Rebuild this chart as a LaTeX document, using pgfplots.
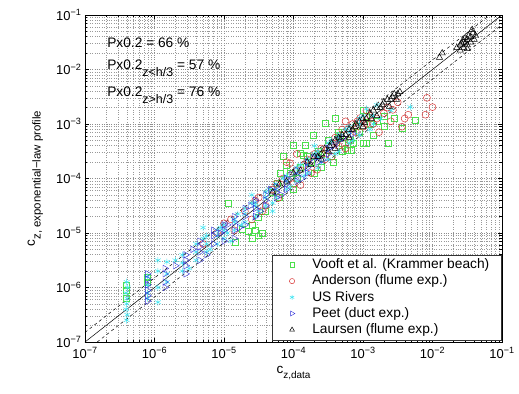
\documentclass[border=0pt]{standalone}
\usepackage{fontspec}
\setmainfont{Liberation Sans}
\usepackage{pgfplots}
\pgfplotsset{compat=1.18}
\definecolor{vgreen}{rgb}{0.3,0.88,0.3}
\definecolor{ared}{rgb}{0.85,0.2,0.2}
\definecolor{ucyan}{rgb}{0.25,0.9,0.95}
\definecolor{pblue}{rgb}{0.2,0.2,0.85}
\newcommand{\fs}[1]{\fontsize{#1}{#1}\selectfont}
\pgfplotsset{lg/.style={legend image code/.code={\path (0bp,0bp) (28.5bp,0bp); \draw[##1, every mark/.append style={scale=0.75}] plot coordinates {(8.5bp,0bp)};}}}
\begin{document}
\begin{tikzpicture}
\begin{axis}[
  name=ax,
  width=417bp, height=327bp, scale only axis,
  xmode=log, ymode=log,
  xmin=1e-7, xmax=1e-1, ymin=1e-7, ymax=1e-1,
  xtick={1e-7,1e-6,1e-5,1e-4,1e-3,1e-2,1e-1},
  ytick={1e-7,1e-6,1e-5,1e-4,1e-3,1e-2,1e-1},
  xticklabels={10\textsuperscript{−7},10\textsuperscript{−6},10\textsuperscript{−5},10\textsuperscript{−4},10\textsuperscript{−3},10\textsuperscript{−2},10\textsuperscript{−1}},
  yticklabels={10\textsuperscript{−7},10\textsuperscript{−6},10\textsuperscript{−5},10\textsuperscript{−4},10\textsuperscript{−3},10\textsuperscript{−2},10\textsuperscript{−1}},
  ticklabel style={font=\fs{13}},
  xticklabel style={yshift=-2bp},
  grid=both,
  major grid style={dotted, black!45},
  minor grid style={dotted, black!40},
  major tick length=4bp, minor tick length=2.5bp,
  tick style={black, line width=0.4pt},
  axis line style={line width=0.5pt},
  xlabel={c\raisebox{-0.8ex}{\fs{10}z,data}},
  xlabel style={at={(axis description cs:0.5,0)}, anchor=base, yshift=-31bp, font=\fs{13.5}},
  ylabel={c\raisebox{-0.8ex}{\fs{11.5}z, exponential−law profile}},
  ylabel style={at={(axis description cs:0,0.5)}, anchor=base, yshift=50bp, font=\fs{13.5}},
  legend style={at={(1,0)}, anchor=south east, xshift=-1bp, yshift=2bp, draw=black!80, fill=white,
     font=\fs{13.8}, row sep=0bp, inner xsep=11.5bp, inner ysep=2bp,
     nodes={inner xsep=0bp, inner ysep=0.85bp, text height=11bp, text depth=3.5bp}},
  legend cell align=left,
  mark options={solid, line width=0.5pt},
]
% reference lines (not in legend)
\addplot[black, line width=0.5pt, forget plot] coordinates {(1e-7,1e-7) (1e-1,1e-1)};
\addplot[black, dashed, line width=0.5pt, forget plot] coordinates {(1e-7,1.5e-7) (6.667e-2,1e-1)};
\addplot[black, dashed, line width=0.5pt, forget plot] coordinates {(1.5e-7,1e-7) (1e-1,6.667e-2)};

% Vooft et al. (Krammer beach)
\addplot[only marks, mark=square, mark size=3pt, color=vgreen, lg] coordinates {
(3.98e-7,1.12e-6) (3.98e-7,8.91e-7) (3.98e-7,6.46e-7) (7.94e-7,1.55e-6) (7.94e-7,1.26e-6)
(1.15e-5,3.55e-5) (1.45e-5,6.76e-6) (1.86e-5,1.15e-5) (2.24e-5,1.07e-5) (2.51e-5,7.94e-6)
(2.82e-5,1.12e-5) (3.16e-5,8.91e-6) (3.55e-5,1e-5) (3.09e-5,1.91e-5) (2.51e-5,1.41e-5)
(5.01e-5,5.62e-5) (5.75e-5,8.32e-5) (6.46e-5,1.26e-4) (7.08e-5,2.51e-4) (7.94e-5,1.78e-4)
(8.91e-5,1.26e-4) (1e-4,4.07e-4) (1.12e-4,1e-4) (1.26e-4,2.95e-4) (1.38e-4,2.69e-4)
(1.48e-4,4.07e-4) (1.58e-4,2.51e-4) (1.78e-4,2e-4) (1.91e-4,6.31e-4) (2.24e-4,3.16e-4)
(2.51e-4,1.58e-4) (2.82e-4,1.05e-3) (3.16e-4,5.01e-4) (3.55e-4,2.51e-4) (3.72e-4,2e-4)
(3.98e-4,1.29e-3) (4.47e-4,7.08e-4) (4.68e-4,6.31e-4) (5.01e-4,3.16e-4) (5.89e-4,3.31e-4)
(6.46e-4,5.13e-4) (6.76e-4,3.31e-4) (7.24e-4,4.47e-4) (7.94e-4,8.91e-4) (1e-3,4.47e-4)
(1.12e-3,4.47e-4) (1.26e-3,1e-3) (1.41e-3,6.31e-4) (1.58e-3,1.12e-3) (2e-3,8.91e-4)
(2.29e-3,4.47e-4) (2.82e-3,1.26e-3) (3.63e-3,8.51e-4) (5.62e-3,1.17e-3) (1e-3,1.78e-3)
(3.98e-5,2.51e-5) (1e-4,6.31e-5) (2e-4,1.26e-4)
(6.31e-5,4.47e-5) (1.26e-4,1.58e-4) (2.51e-4,2.82e-4) (5.01e-4,4.47e-4) (8.91e-4,7.08e-4)
(1.12e-3,1.41e-3) (2e-3,1.41e-3)
};
\addlegendentry{Vooft et al. (Krammer beach)}

% Anderson (flume exp.)
\addplot[only marks, mark=o, mark size=3.5pt, color=ared, lg] coordinates {
(5.01e-6,6.31e-6) (7.94e-6,1e-5) (1e-5,1.51e-5) (1.41e-5,1.12e-5) (2e-5,2.51e-5)
(2.51e-5,1.78e-5) (3.16e-5,4.47e-5) (3.98e-5,3.16e-5) (5.01e-5,6.31e-5) (6.03e-5,4.37e-5)
(7.08e-5,1e-4) (8.91e-5,1.91e-4) (1e-4,7.94e-5) (1.26e-4,7.59e-5) (1.41e-4,1.78e-4)
(1.58e-4,2.24e-4) (1.78e-4,1.26e-4) (2.19e-4,1.45e-4) (2.51e-4,3.55e-4) (3.02e-4,3.31e-4)
(3.55e-4,2.51e-4) (3.98e-4,5.62e-4) (4.47e-4,3.98e-4) (5.01e-4,7.94e-4) (6.31e-4,5.01e-4)
(7.08e-4,1e-3) (7.94e-4,7.08e-4) (9.12e-4,1.29e-3) (1e-3,8.91e-4) (1.26e-3,1.41e-3)
(1.41e-3,1e-3) (1.7e-3,7.08e-4) (2e-3,1.58e-3) (2.69e-3,1.82e-3) (3.16e-3,2.51e-3)
(3.63e-3,8.91e-4) (3.98e-3,1.26e-3) (4.47e-3,1.48e-3) (7.94e-3,1.48e-3) (8.32e-3,3.02e-3)
(1e-2,2.04e-3) (7.94e-5,2e-4) (1.12e-4,2.82e-4) (1.26e-5,1.78e-5) (3.55e-5,2.51e-5)
(5.62e-4,3.55e-4) (1.12e-3,1.78e-3)
(2.82e-5,3.98e-5) (5.62e-5,7.94e-5) (1.12e-4,1.41e-4) (2e-4,2.82e-4) (2.82e-4,2.24e-4)
(4.17e-4,4.47e-4) (6.03e-4,7.94e-4) (8.32e-4,1.12e-3) (1.12e-3,1e-3) (1.58e-3,1.26e-3)
(2.24e-3,2e-3) (2.51e-3,1.12e-3) (5.62e-4,1.12e-3)
};
\addlegendentry{Anderson (flume exp.)}

% US Rivers
\addplot[only marks, mark=asterisk, mark size=3.3pt, color=ucyan, lg] coordinates {
(3.98e-7,1.26e-6) (4.1e-7,1e-6) (3.9e-7,7.94e-7) (4.05e-7,6.31e-7) (3.98e-7,5.01e-7) (3.9e-7,3.98e-7) (4.05e-7,3.16e-7) (3.98e-7,2.51e-7)
(7.94e-7,1.58e-6) (7.94e-7,1.12e-6) (7.94e-7,7.94e-7) (7.94e-7,6.31e-7)
(1.12e-6,3.16e-6) (1.12e-6,2e-6) (1.12e-6,1e-6) (1.12e-6,5.37e-7)
(1.51e-6,2.95e-6) (1.51e-6,1.78e-6) (1.51e-6,1.26e-6)
(2.51e-6,3.98e-6) (2.51e-6,2.82e-6) (2.51e-6,2e-6)
(3.98e-6,6.31e-6) (3.98e-6,4.47e-6) (3.98e-6,3.16e-6)
(5.62e-6,8.91e-6) (5.62e-6,6.31e-6) (5.62e-6,4.47e-6)
(7.94e-6,1.12e-5) (7.94e-6,8.91e-6) (7.94e-6,6.31e-6)
(1e-5,1.41e-5) (1e-5,1.12e-5) (1e-5,7.94e-6)
(1.41e-5,1.78e-5) (1.41e-5,1.58e-5) (1.41e-5,1.12e-5)
(2e-5,2.82e-5) (2e-5,2.24e-5) (2e-5,1.58e-5)
(2.82e-5,3.55e-5) (2.82e-5,3.16e-5) (2.82e-5,2e-5)
(3.98e-5,5.62e-5) (3.98e-5,4.47e-5) (3.98e-5,3.16e-5)
(5.62e-5,7.94e-5) (5.62e-5,6.31e-5) (5.62e-5,4.47e-5)
(7.94e-5,1.12e-4) (7.94e-5,8.91e-5) (7.94e-5,6.31e-5)
(1.12e-4,1.58e-4) (1.12e-4,1.26e-4) (1.12e-4,8.91e-5)
(1.58e-4,2.24e-4) (1.58e-4,1.78e-4) (1.58e-4,1.26e-4)
(2.24e-4,3.16e-4) (2.24e-4,2.51e-4) (2.24e-4,1.58e-4)
(3.16e-4,4.47e-4) (3.16e-4,3.55e-4) (3.16e-4,2.24e-4)
(4.47e-4,6.31e-4) (4.47e-4,5.01e-4) (4.47e-4,3.16e-4)
(6.31e-4,8.91e-4) (6.31e-4,7.08e-4) (6.31e-4,4.47e-4)
(8.91e-4,1.26e-3) (8.91e-4,1e-3) (8.91e-4,6.31e-4)
(1.12e-3,1.91e-3) (1.41e-3,1.41e-3) (1.41e-3,1e-3) (2.51e-3,1.78e-3) (4.79e-3,2.04e-3)
(5.01e-6,1.26e-5) (1.26e-5,7.08e-6) (2.51e-5,5.01e-5) (5.01e-5,2.51e-5) (2e-4,3.98e-4)
(2e-6,3.16e-6) (3.16e-6,2.24e-6) (5.01e-6,7.94e-6) (6.31e-6,5.01e-6) (8.91e-6,1.26e-5)
(1.12e-5,1e-5) (1.58e-5,2.24e-5) (1.78e-5,1.41e-5) (2.51e-5,3.55e-5) (3.16e-5,2.51e-5)
(4.47e-5,6.31e-5) (5.01e-5,3.55e-5) (7.08e-5,1e-4) (8.91e-5,7.08e-5) (1.26e-4,1.78e-4)
(1.41e-4,1.12e-4) (2e-4,2.82e-4) (2.51e-4,2e-4) (3.55e-4,5.01e-4) (3.98e-4,2.82e-4)
(5.62e-4,7.94e-4) (7.08e-4,5.01e-4) (1e-3,1.41e-3) (1.26e-3,7.94e-4) (1.78e-3,1.26e-3)
(1.58e-3,2.24e-3)
};
\addlegendentry{US Rivers}

% Peet (duct exp.)
\addplot[only marks, mark=triangle, mark size=3.8pt, mark options={rotate=-90}, color=pblue, lg] coordinates {
(7.94e-7,1.78e-6) (7.94e-7,1.41e-6) (7.94e-7,1.12e-6) (7.94e-7,8.91e-7) (7.94e-7,7.08e-7) (7.94e-7,5.62e-7)
(1.41e-6,2.24e-6) (1.41e-6,1.78e-6) (1.41e-6,1.26e-6) (1.41e-6,1e-6)
(2.82e-6,3.98e-6) (2.82e-6,3.16e-6) (2.82e-6,2.51e-6) (2.82e-6,1.78e-6)
(4.47e-6,7.08e-6) (4.47e-6,5.62e-6) (4.47e-6,4.47e-6) (4.47e-6,3.16e-6)
(7.08e-6,1.12e-5) (7.08e-6,8.91e-6) (7.08e-6,6.31e-6)
(1e-5,1.41e-5) (1e-5,1.12e-5) (1e-5,7.08e-6)
(1.41e-5,2e-5) (1.41e-5,1.58e-5) (1.41e-5,1.12e-5) (1.41e-5,7.94e-6)
(2e-5,2.82e-5) (2e-5,2e-5) (2e-5,1.41e-5)
(2.82e-5,3.98e-5) (2.82e-5,2.82e-5) (2.82e-5,2e-5)
(3.98e-5,5.01e-5) (3.98e-5,3.98e-5) (3.98e-5,3.16e-5)
(5.62e-5,7.08e-5) (5.62e-5,5.62e-5) (5.62e-5,4.47e-5)
(7.94e-5,1e-4) (7.94e-5,7.94e-5) (7.94e-5,6.31e-5)
(1.12e-4,1.41e-4) (1.12e-4,1.12e-4) (1.12e-4,8.91e-5)
(1.58e-4,2e-4) (1.58e-4,1.58e-4) (1.58e-4,1.26e-4)
(2.24e-4,2.51e-4) (2.24e-4,2e-4)
(3.16e-4,3.55e-4) (3.16e-4,2.82e-4)
(4.47e-4,5.01e-4)
(2e-6,2.51e-6) (3.55e-6,5.01e-6) (5.62e-6,3.98e-6) (8.91e-6,1e-5) (1.12e-5,1.41e-5)
(1.66e-5,1.26e-5) (2.4e-5,3.16e-5) (3.31e-5,2.51e-5) (4.68e-5,6.31e-5) (6.61e-5,5.01e-5)
(9.33e-5,1.2e-4) (1.32e-4,1e-4) (1.91e-4,2.4e-4) (2.63e-4,2.19e-4) (3.8e-4,3.98e-4)
(5.25e-4,5.62e-4) (7.08e-4,6.61e-4)
};
\addlegendentry{Peet (duct exp.)}

% Laursen (flume exp.)
\addplot[only marks, mark=triangle, mark size=3.6pt, color=black, lg] coordinates {
(5.01e-5,5.62e-5) (6.31e-5,7.94e-5) (7.94e-5,8.91e-5) (1e-4,1.26e-4) (1.26e-4,1.41e-4)
(1.58e-4,2e-4) (1.78e-4,1.78e-4) (2e-4,2.51e-4) (2.51e-4,2.82e-4) (2.82e-4,3.55e-4)
(3.16e-4,3.16e-4) (3.55e-4,4.47e-4) (3.98e-4,5.01e-4) (4.47e-4,5.62e-4) (5.01e-4,6.31e-4)
(5.62e-4,6.31e-4) (6.31e-4,7.94e-4) (7.08e-4,7.94e-4) (7.94e-4,1e-3) (8.91e-4,1.12e-3)
(1e-3,1.26e-3) (1.12e-3,1.26e-3) (1.26e-3,1.58e-3) (1.41e-3,1.78e-3) (1.58e-3,2e-3)
(1.78e-3,2e-3) (2e-3,2.51e-3) (2.24e-3,2.82e-3) (2.51e-3,2.82e-3) (2.82e-3,3.55e-3)
(3.16e-3,3.55e-3) (3.39e-3,3.89e-3)
(3.98e-4,3.55e-4) (6.31e-4,5.62e-4) (1e-3,8.91e-4) (1.58e-3,1.41e-3) (2.51e-4,2.24e-4)
(2.24e-4,2.51e-4) (3.31e-4,3.98e-4) (4.79e-4,5.25e-4) (7.59e-4,8.91e-4) (1.05e-3,1.05e-3)
(1.32e-3,1.26e-3) (1.91e-3,2.24e-3) (2.63e-3,3.16e-3) (3.02e-3,2.82e-3) (2.4e-3,2.09e-3)
(1.38e-2,2e-2) (1.26e-2,1.66e-2) (2.24e-2,2.51e-2) (2.51e-2,2.82e-2) (2.51e-2,2.24e-2)
(2.75e-2,3.47e-2) (2.82e-2,3.16e-2) (2.82e-2,2.51e-2) (3.02e-2,3.16e-2) (3.16e-2,3.55e-2)
(3.16e-2,2.82e-2) (3.16e-2,2.4e-2) (3.31e-2,4.17e-2) (3.55e-2,3.16e-2) (3.55e-2,3.98e-2)
(3.8e-2,4.68e-2) (3.98e-2,3.55e-2) (4.17e-2,4.17e-2) (2.63e-2,3.02e-2) (2.95e-2,3.8e-2)
(3.72e-2,5.37e-2)
};
\addlegendentry{Laursen (flume exp.)}

\node[anchor=west, inner sep=0pt, font=\fs{13.8}] at (rel axis cs:0.053,0.914) {Px0.2 = 66 \%};
\node[anchor=west, inner sep=0pt, font=\fs{13.8}] at (rel axis cs:0.053,0.838) {Px0.2\raisebox{-1.0ex}{\fs{12.5}z<h/3} = 57 \%};
\node[anchor=west, inner sep=0pt, font=\fs{13.8}] at (rel axis cs:0.053,0.755) {Px0.2\raisebox{-1.0ex}{\fs{12.5}z>h/3} = 76 \%};
\end{axis}
\pgfresetboundingbox
\path[use as bounding box] ([shift={(-85bp,-52bp)}]ax.south west) rectangle ([shift={(17bp,15bp)}]ax.north east);
\end{tikzpicture}
\end{document}
